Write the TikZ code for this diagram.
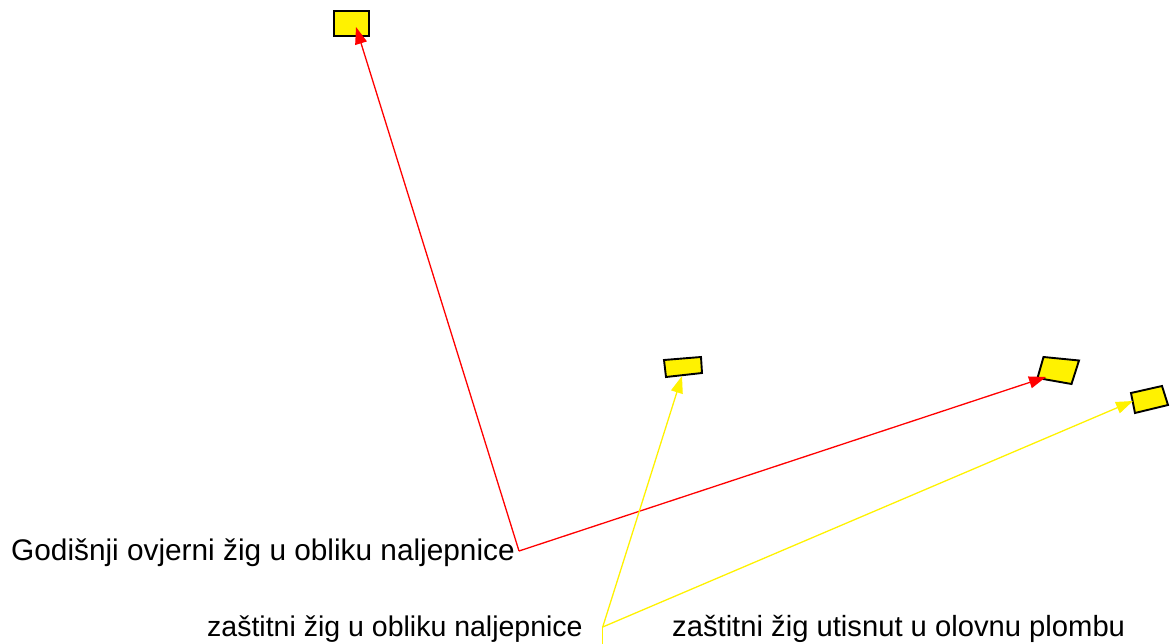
\documentclass[tikz,border=0pt]{standalone}
\usepackage{fontspec}
\setmainfont{Liberation Sans}
\usetikzlibrary{arrows.meta}
\begin{document}
\begin{tikzpicture}[x=1pt,y=-1pt,
  lab/.style={anchor=base west,inner sep=0pt},
  seal/.style={draw=black,line width=1.9pt,fill=yellow,line join=miter},
  redarr/.style={draw=red,line width=1.3pt,-{Triangle[length=17pt,width=12pt]}},
  yelarr/.style={draw=yellow,line width=1.3pt,-{Triangle[length=17pt,width=12pt]}},
  yelline/.style={draw=yellow,line width=1.3pt}]
\useasboundingbox (0,0) rectangle (1172,644);
% seals
\draw[seal] (334,11) -- (369,11) -- (369,36) -- (334,36) -- cycle;
\draw[seal] (664,360) -- (701,357) -- (702,373) -- (666,377) -- cycle;
\draw[seal] (1043.5,357) -- (1079,360.5) -- (1071.5,384) -- (1037.5,378) -- cycle;
\draw[seal] (1131,393) -- (1162,386) -- (1168,405) -- (1135,413) -- cycle;
% labels
\node[lab,font=\fontsize{29.8}{34}\selectfont] (lab1) at (11,560) {Godišnji ovjerni žig u obliku naljepnice};
\node[lab,font=\fontsize{28.5}{34}\selectfont] (lab2) at (207,636.5) {zaštitni žig u obliku naljepnice};
\node[lab,font=\fontsize{29.2}{34}\selectfont] (lab3) at (672,636.5) {zaštitni žig utisnut u olovnu plombu};
% coordinates
\coordinate (r0) at (519,551);
\coordinate (y0) at (602.7,627);
\coordinate (yb) at (602.7,648);
\coordinate (t1) at (356,27);
\coordinate (t2) at (1046,377);
\coordinate (t3) at (682,376);
\coordinate (t4) at (1133,401);
% connectors
\draw[redarr] (r0) -- (t1);
\draw[redarr] (r0) -- (t2);
\draw[yelarr] (y0) -- (t3);
\draw[yelarr] (y0) -- (t4);
\draw[yelline] (y0) -- (yb);
\end{tikzpicture}
\end{document}
